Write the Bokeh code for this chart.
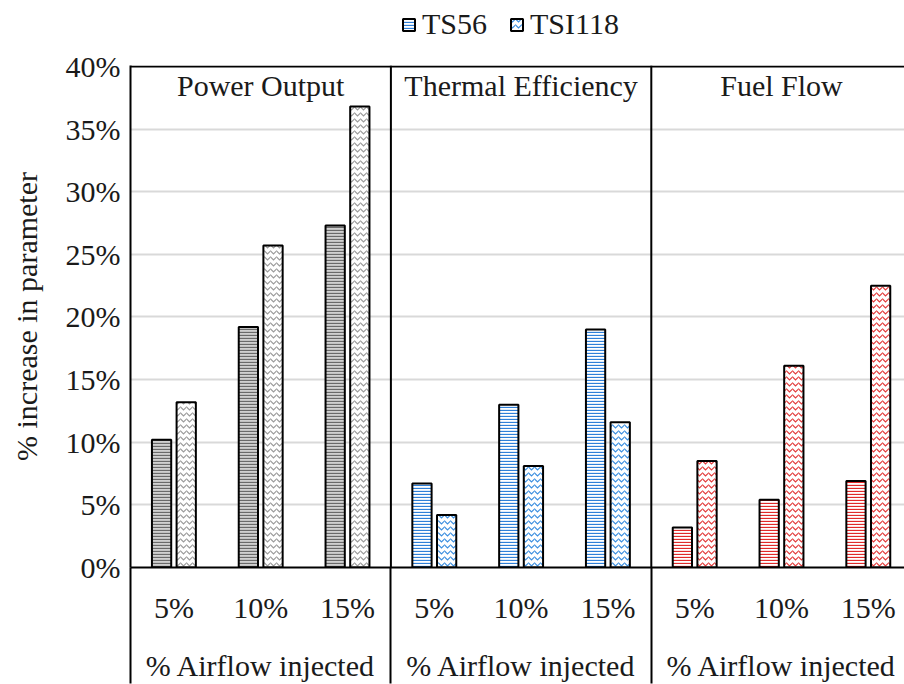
from bokeh.plotting import figure
from bokeh.models import Span, FixedTicker, Legend, LegendItem, Range1d, LinearAxis
from bokeh.layouts import column
from bokeh.core.properties import value
from bokeh.embed import file_html
from bokeh.resources import INLINE

# ---- data ----
panels = ["Power Output", "Thermal Efficiency", "Fuel Flow"]
categories = ["5%", "10%", "15%"]
series = ["TS56", "TSI118"]
ts56 = [[10.2, 19.2, 27.3], [6.7, 13.0, 19.0], [3.2, 5.4, 6.9]]
tsi118 = [[13.2, 25.7, 36.8], [4.2, 8.1, 11.6], [8.5, 16.1, 22.5]]
y_ticks = [0, 5, 10, 15, 20, 25, 30, 35, 40]
group_label = "% Airflow injected"
y_label = "% increase in parameter"

# ---- style ----
FONT = "Liberation Serif"
FS = "30px"
TXT = "#1a1a1a"
panel_colors = ["#6a6a6a", "#2f80d8", "#e02a2a"]
wave_colors = ["#9a9a9a", "#3a8ee0", "#e23a3a"]
ts_fill = ["#d0d0d0", "#ffffff", "#ffffff"]

n_cat = len(categories)
n_pan = len(panels)
W = 904
LEG_H = 45
TOP = 20
BOTTOM = 116
px_per_unit = 86.8
frame_w = W - 130
x_end = frame_w / px_per_unit
y_end = 40 + 1 / 12.55

p = figure(width=W, height=684 - LEG_H, x_range=Range1d(0, x_end), y_range=Range1d(0, y_end),
           output_backend="svg", toolbar_location=None, x_axis_location=None,
           min_border_left=130, min_border_right=0, min_border_top=TOP, min_border_bottom=BOTTOM)
p.outline_line_color = None
p.background_fill_color = "white"
p.border_fill_color = "white"

# y axis
ax = p.yaxis[0]
ax.ticker = FixedTicker(ticks=y_ticks)
ax.major_label_overrides = {t: f"{t}%" for t in y_ticks}
ax.major_label_text_font = FONT
ax.major_label_text_font_size = FS
ax.major_label_text_color = TXT
ax.axis_line_color = "black"
ax.axis_line_width = 2
ax.major_tick_line_color = None
ax.minor_tick_line_color = None
ax.major_tick_out = 0
ax.major_tick_in = 0
ax.major_label_standoff = 10
ax.axis_label = y_label
ax.axis_label_text_font = FONT
ax.axis_label_text_font_size = FS
ax.axis_label_text_font_style = "normal"
ax.axis_label_text_color = TXT
ax.axis_label_standoff = 20

for g in p.grid:
    if g.dimension == 1:
        g.ticker = FixedTicker(ticks=[t for t in y_ticks if 0 < t < 40])
        g.grid_line_color = "#d9d9d9"
        g.grid_line_width = 2
    else:
        g.visible = False

# category axis (panel dividers drawn as long minor ticks)
cat_x = [n_cat * j + i + 0.5 for j in range(n_pan) for i in range(n_cat)]
cat_labels = {n_cat * j + i + 0.5: c for j in range(n_pan) for i, c in enumerate(categories)}
dividers = [n_cat * j for j in range(n_pan + 1)]
xa = LinearAxis(ticker=FixedTicker(ticks=cat_x, minor_ticks=dividers))
xa.major_label_overrides = cat_labels
xa.major_label_text_font = FONT
xa.major_label_text_font_size = FS
xa.major_label_text_color = TXT
xa.axis_line_color = "black"
xa.axis_line_width = 2
xa.major_tick_line_color = None
xa.major_tick_out = 0
xa.major_tick_in = 0
xa.minor_tick_line_color = "black"
xa.minor_tick_line_width = 2
xa.minor_tick_in = 0
xa.minor_tick_out = BOTTOM
xa.major_label_standoff = 23 - BOTTOM
p.add_layout(xa, "below")

grp_x = [n_cat * j + n_cat / 2 for j in range(n_pan)]
xg = LinearAxis(ticker=FixedTicker(ticks=grp_x, minor_ticks=[]))
xg.major_label_overrides = {x: group_label for x in grp_x}
xg.major_label_text_font = FONT
xg.major_label_text_font_size = FS
xg.major_label_text_color = TXT
xg.axis_line_color = None
xg.major_tick_line_color = None
xg.minor_tick_line_color = None
xg.major_tick_out = 0
xg.major_tick_in = 0
xg.major_label_standoff = 22
p.add_layout(xg, "below")

# bars
off = 0.142
bw = 0.222
bar_ts = dict(line_color="black", line_width=2, hatch_pattern="horizontal_line",
              hatch_scale=3, hatch_weight=1.3)
bar_tsi = dict(line_color="black", line_width=2, hatch_pattern="horizontal_wave",
               hatch_scale=6, hatch_weight=1.2, fill_color="white")
for j in range(n_pan):
    xs = [n_cat * j + i + 0.5 for i in range(n_cat)]
    p.vbar(x=[x - off for x in xs], top=ts56[j], bottom=0, width=bw,
           fill_color=ts_fill[j], hatch_color=panel_colors[j], **bar_ts)
    p.vbar(x=[x + off for x in xs], top=tsi118[j], bottom=0, width=bw,
           hatch_color=wave_colors[j], **bar_tsi)

# frame lines
p.add_layout(Span(location=40, dimension="width", line_color="black", line_width=2))
for d in dividers[1:-1]:
    p.add_layout(Span(location=d, dimension="height", line_color="black", line_width=2))

# panel titles
p.text(x=grp_x, y=[38.5] * n_pan, text=panels, text_font=value(FONT), text_font_size=value(FS),
       text_color=TXT, text_align="center", text_baseline="middle")

# legend strip on top: swatch renderers are zero-sized (draw nothing), only the legend shows
lf = figure(width=W, height=LEG_H, x_range=Range1d(0, 1), y_range=Range1d(0, 1),
            output_backend="svg", toolbar_location=None, x_axis_location=None,
            y_axis_location=None, min_border=0)
lf.outline_line_color = None
lf.background_fill_color = "white"
lf.border_fill_color = "white"
for g in lf.grid:
    g.visible = False
l1 = lf.vbar(x=[0.99], top=[0.02], bottom=[0.02], width=0, fill_color=ts_fill[1],
             hatch_color=panel_colors[1], **bar_ts)
l2 = lf.vbar(x=[0.99], top=[0.02], bottom=[0.02], width=0, hatch_color=wave_colors[1], **bar_tsi)
legend = Legend(items=[LegendItem(label=series[0], renderers=[l1]),
                       LegendItem(label=series[1], renderers=[l2])],
                orientation="horizontal", location=(271, 4))
legend.label_text_font = FONT
legend.label_text_font_size = FS
legend.label_text_color = TXT
legend.glyph_width = 15
legend.glyph_height = 15
legend.label_standoff = 6
legend.spacing = 22
legend.padding = 0
legend.margin = 0
legend.border_line_color = None
legend.background_fill_alpha = 0
lf.add_layout(legend, "center")

layout = column(lf, p, spacing=0)
open("out.html", "w").write(file_html(layout, INLINE))
